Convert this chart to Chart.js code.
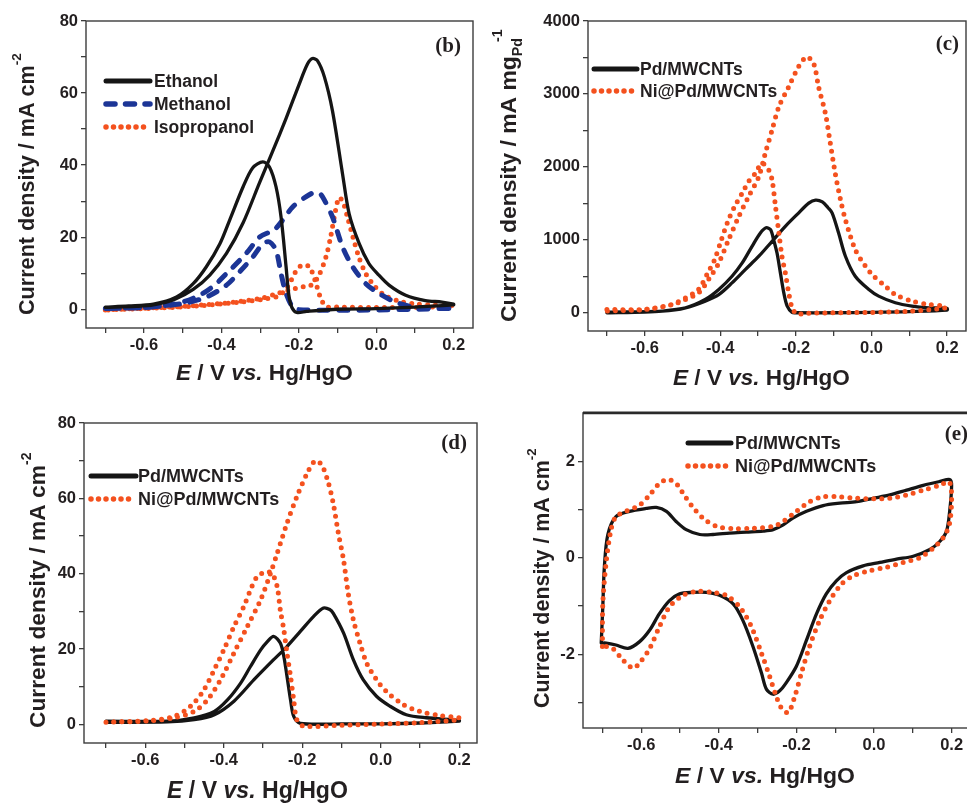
<!DOCTYPE html>
<html>
<head>
<meta charset="utf-8">
<script src="https://cdn.jsdelivr.net/npm/chart.js@4.4.0/dist/chart.umd.min.js"></script>
<style>
  body { margin: 0; background: #fff; width: 967px; height: 806px; overflow: hidden; position: relative; }
  canvas { position: absolute; }
</style>
</head>
<body>
<canvas id="chartB" width="480" height="400" style="left:0;top:0"></canvas>
<canvas id="chartC" width="487" height="400" style="left:480px;top:0"></canvas>
<canvas id="chartD" width="480" height="406" style="left:0;top:400px"></canvas>
<canvas id="chartE" width="500" height="406" style="left:480px;top:400px"></canvas>
<script>
// ---- data (E in V vs Hg/HgO, j in panel units), each loop = forward then backward scan ----
const xTicks = [-0.7, -0.6, -0.5, -0.4, -0.3, -0.2, -0.1, 0, 0.1, 0.2];
const yTicksB = [0, 10, 20, 30, 40, 50, 60, 70, 80];
const yTicksC = [0, 500, 1000, 1500, 2000, 2500, 3000, 3500, 4000];
const yTicksD = [0, 10, 20, 30, 40, 50, 60, 70, 80];
const yTicksE = [-3, -2, -1, 0, 1, 2];

// (b) alcohols
const ethanolE = [-0.70,-0.62,-0.576,-0.52,-0.473,-0.43,-0.387,-0.344,-0.302,-0.267,-0.233,-0.199,-0.178,-0.165,-0.152,-0.134,-0.113,-0.087,-0.07,-0.044,-0.019,0.003,0.033,0.076,0.127,0.17,0.2,
  0.2,0.1,0,-0.1,-0.18,-0.205,-0.218,-0.226,-0.233,-0.246,-0.259,-0.276,-0.293,-0.319,-0.344,-0.379,-0.404,-0.439,-0.473,-0.516,-0.576,-0.64,-0.70];
const ethanolJ = [0.5,0.8,1.2,2.8,5.5,9.5,15.5,24,35,44,53,62.5,68,69.6,69,64.5,55,37.5,26.5,18.2,12.7,9.9,6.7,3.9,2.4,2,1.4,
  1.2,0.6,0.2,0,-0.6,-0.9,0.5,4,11.8,25.6,34,39.5,40.9,39.3,34,24.7,18.2,11.8,7.1,3.4,1.4,0.9,0.6];
const methanolE = [-0.7,-0.6,-0.542,-0.5,-0.456,-0.42,-0.387,-0.336,-0.302,-0.28,-0.267,-0.242,-0.216,-0.182,-0.16,-0.145,-0.134,-0.113,-0.087,-0.061,-0.027,0.007,0.05,0.1,0.2,
  0.2,0.1,0,-0.1,-0.2,-0.216,-0.233,-0.246,-0.259,-0.276,-0.293,-0.319,-0.353,-0.387,-0.439,-0.499,-0.6,-0.7];
const methanolJ = [0.2,0.5,1.1,2,3.9,6.5,9.9,15.5,20,21.2,21.6,24.7,28.4,31.2,32.4,32,30.3,25.6,17.3,11.8,7.1,4.4,2,0.6,0.2,
  0.3,0,-0.2,-0.3,-0.1,0.6,4.4,9.9,16.4,18.7,18.2,14.5,10.4,6.7,3.4,1.6,0.5,0.2];
const isopropanolE = [-0.7,-0.6,-0.5,-0.45,-0.4,-0.35,-0.3,-0.26,-0.22,-0.19,-0.17,-0.15,-0.13,-0.118,-0.106,-0.096,-0.085,-0.073,-0.06,-0.045,-0.027,-0.005,0.02,0.06,0.1,0.15,0.2,
  0.2,0.1,0,-0.1,-0.13,-0.145,-0.158,-0.173,-0.19,-0.205,-0.22,-0.235,-0.255,-0.29,-0.35,-0.45,-0.55,-0.7];
const isopropanolJ = [-0.2,0.3,0.8,1.2,1.6,2.2,3,4.2,5.5,6.2,6.6,9,14.5,20,27,31,29.5,25,20,14.5,9.9,6.5,4,2.2,1.5,1.2,1,
  0.8,0.5,0.5,0.6,0.8,3.5,8,11.8,12.3,11,8,5.3,3.6,2.8,2,1,0.4,-0.2];

// (c) mass activity
const pdMassE = [-0.7,-0.6,-0.554,-0.492,-0.44,-0.404,-0.369,-0.334,-0.298,-0.263,-0.228,-0.193,-0.166,-0.148,-0.13,-0.115,-0.104,-0.087,-0.069,-0.043,-0.007,0.019,0.063,0.107,0.151,0.2,
  0.2,0.1,0,-0.1,-0.2,-0.21,-0.223,-0.232,-0.241,-0.25,-0.259,-0.267,-0.279,-0.294,-0.316,-0.342,-0.369,-0.404,-0.44,-0.492,-0.554,-0.7];
const pdMassJ = [0,10,23,68,160,250,410,592,775,980,1185,1367,1503,1545,1520,1440,1367,1093,775,501,319,228,137,91,68,60,
  36,15,5,0,0,5,91,273,547,820,1002,1139,1165,1093,911,683,501,319,182,68,23,9];
const niPdMassE = [-0.7,-0.6,-0.528,-0.492,-0.457,-0.431,-0.404,-0.378,-0.351,-0.325,-0.298,-0.281,-0.263,-0.245,-0.219,-0.193,-0.171,-0.153,-0.14,-0.122,-0.109,-0.096,-0.082,-0.069,-0.043,-0.016,0.006,0.037,0.063,0.107,0.151,0.195,
  0.195,0.1,0,-0.1,-0.18,-0.197,-0.21,-0.219,-0.228,-0.237,-0.245,-0.254,-0.263,-0.272,-0.29,-0.307,-0.325,-0.342,-0.362,-0.38,-0.397,-0.415,-0.433,-0.458,-0.492,-0.528,-0.598,-0.7];
const niPdMassJ = [46,46,110,182,273,456,683,1002,1321,1595,1868,2187,2506,2825,3098,3372,3508,3417,3098,2734,2324,1913,1549,1276,866,638,501,364,250,160,114,91,
  68,20,5,0,-10,-23,68,273,547,775,1093,1458,1822,1959,2050,1913,1800,1640,1458,1253,1002,729,547,319,205,114,46,23];

// (d) specific activity
const pdAreaE = [-0.7,-0.543,-0.475,-0.424,-0.374,-0.323,-0.273,-0.239,-0.205,-0.171,-0.146,-0.13,-0.121,-0.095,-0.07,-0.045,-0.011,0.023,0.065,0.116,0.2,
  0.2,0.1,0,-0.1,-0.205,-0.222,-0.23,-0.239,-0.247,-0.256,-0.273,-0.289,-0.306,-0.332,-0.357,-0.39,-0.424,-0.475,-0.543,-0.7];
const pdAreaJ = [0.6,0.7,1.3,2.6,6.2,11.9,17.2,20.7,24.7,28.7,30.9,30.5,29.5,24.3,17.2,11.9,7.5,4.9,2.6,1.8,1.1,
  0.9,0.4,0.2,0.2,0.3,2.2,6.6,12.8,18.1,21.6,23.4,22,19.8,15.4,11,6.6,3.5,1.8,0.9,0.9];
const niPdAreaE = [-0.7,-0.585,-0.526,-0.475,-0.441,-0.408,-0.374,-0.34,-0.306,-0.281,-0.264,-0.239,-0.214,-0.188,-0.167,-0.15,-0.133,-0.121,-0.108,-0.095,-0.083,-0.07,-0.053,-0.036,-0.011,0.014,0.057,0.099,0.149,0.2,
  0.2,0.1,0,-0.1,-0.197,-0.214,-0.222,-0.23,-0.239,-0.247,-0.256,-0.264,-0.277,-0.292,-0.315,-0.332,-0.349,-0.374,-0.4,-0.424,-0.45,-0.484,-0.526,-0.585,-0.7];
const niPdAreaJ = [0.6,1,1.8,3.5,6.6,11.9,19,26,33.1,40.1,45.4,53.4,60.4,66.6,70,68.8,63.9,58.6,50.7,43.7,34.8,27.8,21.6,16.3,11.9,8.8,5.3,3.5,2.4,1.8,
  1.3,0.5,0.1,-0.2,-0.4,1.3,6.6,12.8,19,25.1,30.4,36.6,40.1,40.5,39.2,35.7,31.3,26,19.8,14.6,9.3,4.9,2.2,1.1,0.6];

// (e) CV in KOH
const pdCvE = [-0.703,-0.699,-0.695,-0.686,-0.665,-0.63,-0.587,-0.561,-0.535,-0.51,-0.484,-0.449,-0.415,-0.372,-0.329,-0.286,-0.26,-0.234,-0.209,-0.174,-0.131,-0.088,-0.045,-0.002,0.041,0.084,0.127,0.17,0.195,
  0.2,0.195,0.187,0.17,0.144,0.101,0.058,0.015,-0.028,-0.071,-0.097,-0.123,-0.148,-0.174,-0.2,-0.226,-0.243,-0.26,-0.277,-0.29,-0.312,-0.338,-0.363,-0.398,-0.432,-0.467,-0.501,-0.527,-0.553,-0.578,-0.604,-0.634,-0.665,-0.69,-0.703];
const pdCvJ = [-1.77,-1.02,-0.2,0.48,0.85,0.96,1.02,1.04,0.96,0.75,0.58,0.48,0.48,0.51,0.53,0.55,0.58,0.68,0.82,0.96,1.08,1.13,1.16,1.23,1.3,1.4,1.5,1.58,1.62,
  1.5,0.96,0.55,0.34,0.17,0.03,-0.03,-0.1,-0.17,-0.31,-0.48,-0.75,-1.16,-1.71,-2.25,-2.59,-2.76,-2.83,-2.73,-2.39,-1.84,-1.3,-0.96,-0.78,-0.72,-0.72,-0.75,-0.89,-1.16,-1.5,-1.74,-1.88,-1.81,-1.77,-1.77];
const niPdCvE = [-0.7,-0.699,-0.69,-0.677,-0.665,-0.639,-0.604,-0.578,-0.553,-0.531,-0.51,-0.492,-0.471,-0.441,-0.406,-0.363,-0.312,-0.26,-0.234,-0.2,-0.166,-0.131,-0.088,-0.045,-0.002,0.041,0.084,0.127,0.17,0.194,
  0.2,0.194,0.178,0.153,0.118,0.075,0.032,-0.011,-0.054,-0.084,-0.114,-0.14,-0.166,-0.187,-0.204,-0.221,-0.239,-0.252,-0.269,-0.29,-0.316,-0.346,-0.381,-0.415,-0.458,-0.492,-0.527,-0.553,-0.578,-0.604,-0.621,-0.647,-0.673,-0.69,-0.7];
const niPdCvJ = [-1.84,-0.96,-0.07,0.61,0.85,0.96,1.09,1.3,1.54,1.62,1.54,1.33,1.09,0.82,0.65,0.6,0.61,0.65,0.75,0.96,1.16,1.26,1.26,1.23,1.22,1.23,1.3,1.4,1.5,1.57,
  1.23,0.68,0.41,0.2,0,-0.1,-0.2,-0.27,-0.38,-0.55,-0.89,-1.3,-1.84,-2.39,-2.87,-3.21,-3.11,-2.87,-2.46,-1.98,-1.43,-1.02,-0.78,-0.72,-0.7,-0.78,-1.02,-1.43,-1.88,-2.18,-2.29,-2.12,-1.88,-1.84,-1.84];

// ---- styles ----
const TXT = '#231f20';
const AXIS = '#3c3c3c';
const SANS = '"Liberation Sans", Arial, sans-serif';
const solid = { borderColor: '#151515', borderWidth: 3.3, borderCapStyle: 'round', borderJoinStyle: 'round' };
const dotted = { borderColor: '#f4511e', borderWidth: 5, borderDash: [0, 8], borderCapStyle: 'round' };
const dashed = { borderColor: '#1c3596', borderWidth: 5, borderDash: [9, 11], borderCapStyle: 'round' };

const pts = (e, j) => e.map((x, i) => ({ x, y: j[i] }));

// draws a list of text runs along the current x axis of the context
function drawRuns(ctx, runs, size, targetLen) {
  ctx.font = `bold ${size}px ${SANS}`;
  const scale = targetLen ? targetLen / ctx.measureText(runs.filter(r => !r.small).map(r => r.t).join('')).width : 1;
  const s = size * scale;
  let x = 0;
  runs.forEach(r => {
    const fs = r.small ? s * 0.62 : s;
    ctx.font = `${r.italic ? 'italic ' : ''}bold ${fs}px ${SANS}`;
    ctx.fillText(r.t, x, (r.dy || 0) * s / 20);
    x += ctx.measureText(r.t).width + (r.gap || 0);
  });
}

const panelText = {
  id: 'panelText',
  beforeDatasetsDraw(chart, args, o) {
    const { ctx, chartArea: a } = chart;
    ctx.save();
    ctx.strokeStyle = AXIS;
    ctx.lineWidth = 1.4;
    ctx.strokeRect(a.left, a.top, a.right - a.left, a.bottom - a.top);
    if (o.topWidth) {
      ctx.lineWidth = o.topWidth;
      ctx.strokeStyle = '#2a2a2a';
      ctx.beginPath(); ctx.moveTo(a.left, a.top); ctx.lineTo(a.right, a.top); ctx.stroke();
    }
    ctx.restore();
  },
  afterDraw(chart, args, o) {
    const { ctx } = chart;
    ctx.save();
    ctx.fillStyle = TXT;
    ctx.textBaseline = 'alphabetic';
    ctx.textAlign = 'left';
    // y title, rotated
    ctx.save();
    ctx.translate(o.yTitle.x, o.yTitle.y);
    ctx.rotate(-Math.PI / 2);
    drawRuns(ctx, o.yTitle.runs, 21, o.yTitle.len);
    ctx.restore();
    // x title
    ctx.save();
    ctx.translate(o.xTitle.x, o.xTitle.y);
    drawRuns(ctx, [{ t: 'E', italic: true }, { t: ' / V ' }, { t: 'vs.', italic: true }, { t: ' Hg/HgO' }], 22, o.xTitle.len);
    ctx.restore();
    // panel tag
    ctx.font = `bold 21px "Liberation Serif", "Times New Roman", serif`;
    ctx.textAlign = 'right';
    ctx.fillText(o.tag.t, o.tag.x, o.tag.y);
    // legend inside plot
    const L = o.legend;
    chart.data.datasets.forEach((ds, i) => {
      const y = L.y + i * L.dy;
      ctx.save();
      ctx.strokeStyle = ds.borderColor;
      ctx.lineWidth = ds.borderDash ? ds.borderWidth + 0.5 : 5;
      ctx.lineCap = 'round';
      ctx.setLineDash(ds.borderDash ? ds.borderDash.map((d, k) => k % 2 ? d - 0.5 : d) : []);
      ctx.beginPath(); ctx.moveTo(L.x1, y); ctx.lineTo(L.x2, y); ctx.stroke();
      ctx.restore();
      ctx.font = `bold ${L.size}px ${SANS}`;
      ctx.textAlign = 'left';
      ctx.textBaseline = 'middle';
      ctx.fillText(ds.label, L.tx, y + 1);
    });
    ctx.restore();
  }
};

function buildChart(id, datasets, p) {
  const tickFont = { family: SANS, weight: 'bold', size: 16.5 };
  return new Chart(document.getElementById(id), {
    type: 'line',
    data: { datasets },
    options: {
      responsive: false,
      animation: false,
      events: [],
      layout: { padding: { top: p.padTop, right: p.padRight, left: 0, bottom: 0 } },
      elements: { point: { radius: 0 }, line: { tension: 0.3, fill: false } },
      scales: {
        x: {
          type: 'linear', min: p.xMin, max: p.xMax,
          afterFit: s => { s.height = p.xAxisH; },
          afterBuildTicks: s => { s.ticks = xTicks.map(v => ({ value: v })); },
          border: { display: false },
          grid: { drawOnChartArea: false, drawTicks: true, tickLength: 5, color: AXIS, lineWidth: 1.3 },
          ticks: { autoSkip: false, maxRotation: 0, padding: 3, color: TXT, font: tickFont,
            callback: v => (Math.round(v * 10) % 2 === 0 ? v.toFixed(1) : '') }
        },
        y: {
          type: 'linear', min: p.yMin, max: p.yMax,
          afterFit: s => { s.width = p.yAxisW; },
          afterBuildTicks: s => { s.ticks = p.yTicks.map(v => ({ value: v })); },
          border: { display: false },
          grid: { drawOnChartArea: false, drawTicks: true, tickLength: 5, color: AXIS, lineWidth: 1.3 },
          ticks: { autoSkip: false, padding: 3, color: TXT, font: tickFont,
            callback: v => (v % p.yLabelStep === 0 ? String(v) : '') }
        }
      },
      plugins: { legend: { display: false }, tooltip: { enabled: false }, panelText: p.text }
    },
    plugins: [panelText]
  });
}

const cmTitle = [{ t: 'Current density / mA cm' }, { t: '-2', small: true, dy: -12, gap: 0 }];

buildChart('chartB', [
  { label: 'Ethanol', data: pts(ethanolE, ethanolJ), order: 0, ...solid },
  { label: 'Methanol', data: pts(methanolE, methanolJ), order: 1, ...dashed },
  { label: 'Isopropanol', data: pts(isopropanolE, isopropanolJ), order: 2, ...dotted }
], {
  xMin: -0.75, xMax: 0.25, yMin: -5.2, yMax: 80, yTicks: yTicksB, yLabelStep: 20,
  padTop: 21, padRight: 7, yAxisW: 86, xAxisH: 72,
  text: {
    yTitle: { x: 34, y: 315, len: 250, runs: cmTitle },
    xTitle: { x: 176, y: 380, len: 177 },
    tag: { t: '(b)', x: 461, y: 52 },
    legend: { x1: 106, x2: 150, y: 81, dy: 23, tx: 154, size: 17.5 }
  }
});

buildChart('chartC', [
  { label: 'Pd/MWCNTs', data: pts(pdMassE, pdMassJ), order: 1, ...solid },
  { label: 'Ni@Pd/MWCNTs', data: pts(niPdMassE, niPdMassJ), order: 0, ...dotted }
], {
  xMin: -0.75, xMax: 0.25, yMin: -250, yMax: 4000, yTicks: yTicksC, yLabelStep: 1000,
  padTop: 21, padRight: 1, yAxisW: 108, xAxisH: 69,
  text: {
    yTitle: { x: 36, y: 322, len: 266, runs: [{ t: 'Current density / mA mg' }, { t: 'Pd', small: true, dy: 5, gap: -4 }, { t: '-1', small: true, dy: -12 }] },
    xTitle: { x: 193, y: 385, len: 177 },
    tag: { t: '(c)', x: 479, y: 50 },
    legend: { x1: 114, x2: 157, y: 69, dy: 22, tx: 160, size: 17.5 }
  }
});

buildChart('chartD', [
  { label: 'Pd/MWCNTs', data: pts(pdAreaE, pdAreaJ), order: 1, ...solid },
  { label: 'Ni@Pd/MWCNTs', data: pts(niPdAreaE, niPdAreaJ), order: 0, ...dotted }
], {
  xMin: -0.756, xMax: 0.245, yMin: -4.9, yMax: 80, yTicks: yTicksD, yLabelStep: 20,
  padTop: 23, padRight: 3, yAxisW: 84, xAxisH: 63,
  text: {
    yTitle: { x: 45, y: 328, len: 263, runs: cmTitle },
    xTitle: { x: 167, y: 398, len: 181 },
    tag: { t: '(d)', x: 467, y: 49 },
    legend: { x1: 91, x2: 136, y: 76, dy: 23, tx: 138, size: 18 }
  }
});

buildChart('chartE', [
  { label: 'Pd/MWCNTs', data: pts(pdCvE, pdCvJ), order: 1, ...solid },
  { label: 'Ni@Pd/MWCNTs', data: pts(niPdCvE, niPdCvJ), order: 0, ...dotted }
], {
  xMin: -0.75, xMax: 0.25, yMin: -3.53, yMax: 3, yTicks: yTicksE, yLabelStep: 2,
  padTop: 12, padRight: 9, yAxisW: 103, xAxisH: 78,
  text: {
    topWidth: 2.6,
    yTitle: { x: 69, y: 308, len: 248, runs: cmTitle },
    xTitle: { x: 195, y: 383, len: 180 },
    tag: { t: '(e)', x: 488, y: 40 },
    legend: { x1: 208, x2: 251, y: 43, dy: 23, tx: 255, size: 18 }
  }
});
</script>
</body>
</html>
